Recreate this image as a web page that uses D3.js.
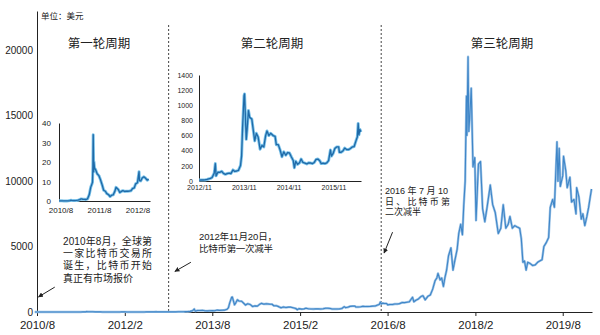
<!DOCTYPE html>
<html>
<head>
<meta charset="utf-8">
<script src="https://cdn.jsdelivr.net/npm/d3@7"></script>
<style>
body { margin: 0; background: #fff; }
svg { display: block; }
text { font-family: "Liberation Sans", "Noto Sans CJK SC", sans-serif; fill: #222; }
</style>
</head>
<body>
<svg id="chart"></svg>
<script>
// ---- data (USD) ----
const cycle1Dates = ['2010-07-18','2010-08-01','2010-08-15','2010-09-01','2010-09-15','2010-10-01','2010-10-15','2010-11-01','2010-11-07','2010-11-15','2010-12-01','2010-12-15','2011-01-01','2011-01-15','2011-02-01','2011-02-10','2011-02-15','2011-03-01','2011-03-15','2011-04-01','2011-04-15','2011-05-01','2011-05-15','2011-05-25','2011-06-01','2011-06-05','2011-06-08','2011-06-12','2011-06-15','2011-06-20','2011-07-01','2011-07-15','2011-08-01','2011-08-15','2011-09-01','2011-09-15','2011-10-01','2011-10-15','2011-11-01','2011-11-15','2011-12-01','2011-12-15','2012-01-01','2012-01-10','2012-01-15','2012-02-01','2012-02-15','2012-03-01','2012-03-15','2012-04-01','2012-04-15','2012-05-01','2012-05-15','2012-06-01','2012-06-15','2012-07-01','2012-07-15','2012-08-01','2012-08-16','2012-08-20','2012-09-01','2012-09-15','2012-10-01','2012-10-15','2012-11-01','2012-11-15'];
const cycle1Prices = [0.09,0.07,0.07,0.06,0.06,0.06,0.1,0.2,0.39,0.28,0.22,0.24,0.3,0.4,0.72,1.05,1.05,0.9,0.86,0.78,1.1,3.2,7,8.5,9.6,18,34,15,20,17,16,14,13,11,8.2,5.5,5,3.8,3.2,2.3,3,3.2,5.2,7,6.8,5.9,4.4,4.9,5.3,4.9,5,5,5.1,5.3,6.4,6.7,8.8,9.4,15,10.5,10.3,11.8,12.4,11.8,10.7,11.2];

const cycle2Dates = ['2012-11-28','2012-12-15','2013-01-01','2013-01-15','2013-02-01','2013-02-15','2013-03-01','2013-03-15','2013-04-01','2013-04-10','2013-04-16','2013-05-01','2013-05-15','2013-06-01','2013-06-15','2013-07-01','2013-07-15','2013-08-01','2013-08-15','2013-09-01','2013-09-15','2013-10-01','2013-10-15','2013-11-01','2013-11-10','2013-11-18','2013-11-30','2013-12-04','2013-12-10','2013-12-18','2013-12-25','2014-01-05','2014-01-15','2014-02-01','2014-02-15','2014-02-25','2014-03-10','2014-03-25','2014-04-10','2014-04-25','2014-05-10','2014-05-25','2014-06-05','2014-06-20','2014-07-05','2014-07-25','2014-08-10','2014-08-20','2014-09-05','2014-09-20','2014-10-05','2014-10-20','2014-11-05','2014-11-20','2014-12-05','2014-12-20','2015-01-05','2015-01-14','2015-01-25','2015-02-10','2015-02-25','2015-03-10','2015-03-25','2015-04-10','2015-04-25','2015-05-10','2015-05-25','2015-06-10','2015-06-25','2015-07-10','2015-07-25','2015-08-10','2015-08-20','2015-09-05','2015-09-20','2015-10-05','2015-10-20','2015-11-04','2015-11-12','2015-11-25','2015-12-10','2015-12-25','2016-01-10','2016-01-16','2016-01-30','2016-02-15','2016-02-28','2016-03-15','2016-03-30','2016-04-15','2016-04-30','2016-05-15','2016-05-30','2016-06-10','2016-06-17','2016-06-23','2016-07-01','2016-07-10'];
const cycle2Prices = [12.4,13.3,13.5,14.3,20,27,34,47,104,230,68,116,115,128,100,88,98,104,98,146,127,132,140,204,330,700,1125,1150,900,550,680,930,840,820,650,530,630,580,420,470,450,600,660,600,630,600,590,480,480,410,320,385,340,375,370,320,270,175,260,220,240,290,245,235,225,240,238,230,245,285,290,265,230,235,230,240,270,410,330,360,430,450,450,380,380,400,435,415,415,430,450,455,530,580,760,610,680,650];

const cycle3Dates = ['2016-07-25','2016-08-02','2016-08-15','2016-09-01','2016-09-15','2016-10-01','2016-10-15','2016-11-01','2016-11-15','2016-12-01','2016-12-15','2017-01-04','2017-01-12','2017-01-25','2017-02-10','2017-02-25','2017-03-10','2017-03-24','2017-04-10','2017-04-25','2017-05-10','2017-05-25','2017-06-05','2017-06-12','2017-06-25','2017-07-05','2017-07-16','2017-07-25','2017-08-05','2017-08-17','2017-09-01','2017-09-14','2017-09-25','2017-10-10','2017-10-20','2017-11-01','2017-11-12','2017-11-20','2017-11-29','2017-12-07','2017-12-10','2017-12-17','2017-12-22','2017-12-28','2018-01-06','2018-01-17','2018-01-28','2018-02-05','2018-02-20','2018-03-05','2018-03-18','2018-04-01','2018-04-15','2018-05-05','2018-05-20','2018-06-05','2018-06-24','2018-07-10','2018-07-25','2018-08-10','2018-08-25','2018-09-05','2018-09-20','2018-10-05','2018-10-20','2018-11-05','2018-11-15','2018-11-25','2018-12-05','2018-12-15','2018-12-25','2019-01-10','2019-01-25','2019-02-10','2019-02-25','2019-03-10','2019-03-25','2019-04-05','2019-04-20','2019-05-05','2019-05-15','2019-05-30','2019-06-10','2019-06-26','2019-07-02','2019-07-10','2019-07-17','2019-08-01','2019-08-06','2019-08-20','2019-08-29','2019-09-15','2019-09-25','2019-10-10','2019-10-23','2019-10-27','2019-11-10','2019-11-25','2019-12-05','2019-12-17','2019-12-30','2020-01-10','2020-01-20','2020-01-28'];
const cycle3Prices = [655,545,570,575,610,615,640,730,715,750,780,1130,780,900,1000,1180,1250,930,1200,1300,1750,2400,2600,2950,2450,2600,1950,2600,3200,4300,4900,3200,3900,4800,6000,6700,5900,8100,10000,16500,13500,19500,13800,15000,17100,11100,11800,7000,11300,11500,7900,6900,8000,9700,8200,7600,6000,6400,8200,6400,6700,7300,6400,6600,6500,6400,5600,3800,3900,3200,3800,3700,3550,3600,3800,3900,4000,5000,5300,5700,8000,8600,8000,13000,10000,12500,9600,10400,11900,10800,9500,10300,8400,8600,7500,9500,8800,7100,7500,6600,7300,8000,8800,9400];

const mainXTicks = ['2010-08-01','2012-02-01','2013-08-01','2015-02-01','2016-08-01','2018-02-01','2019-08-01'];
const mainYTicks = [0, 5000, 10000, 15000, 20000];
const inset1XTicks = ['2010-08-01','2011-08-01','2012-08-01'];
const inset1YTicks = [0, 10, 20, 30, 40];
const inset2XTicks = ['2012-11-28','2013-11-28','2014-11-28','2015-11-28'];
const inset2YTicks = [0, 200, 400, 600, 800, 1000, 1200, 1400];
const halvingDates = ['2012-11-01','2016-06-22'];
const cycleTitles = ['第一轮周期','第二轮周期','第三轮周期'];
const unitLabel = '单位：美元';
const note1Lines = ['2010年8月，全球第','一家比特币交易所','诞生，比特币开始','真正有市场报价'];
const note2Lines = ['2012年11月20日，','比特币第一次减半'];
const note3Lines = ['2016 年 7 月 10','日、比特币第','二次减半'];

// ---- layout ----
const width = 600, height = 335;
const parse = d3.timeParse('%Y-%m-%d');
const fmt = d3.timeFormat('%Y/%-m');
const zip = (ds, vs) => ds.map((d, i) => ({ date: parse(d), value: vs[i] }));
const c1 = zip(cycle1Dates, cycle1Prices);
const c2 = zip(cycle2Dates, cycle2Prices);
const c3 = zip(cycle3Dates, cycle3Prices);
const all = c1.concat(c2, c3);

const svg = d3.select('#chart').attr('width', width).attr('height', height);

svg.append('defs').append('marker')
	.attr('id', 'arrow')
	.attr('viewBox', '0 0 10 10')
	.attr('refX', 9).attr('refY', 5)
	.attr('markerWidth', 5).attr('markerHeight', 5)
	.attr('orient', 'auto')
	.append('path').attr('d', 'M0,0L10,5L0,10z').attr('fill', '#222');

// main scales
let x = d3.scaleTime().domain([parse('2010-08-01'), parse('2020-01-31')]).range([37, 592]);
let y = d3.scaleLinear().domain([0, 23000]).range([312, 11]);

function styleAxis(g) {
	g.selectAll('path.domain').attr('stroke', '#222').attr('stroke-width', 1);
	g.selectAll('line').attr('stroke', '#222');
}

svg.append('g').attr('transform', 'translate(37,0)')
	.call(d3.axisLeft(y).tickValues(mainYTicks).tickSize(0).tickPadding(4).tickFormat(d3.format('d')))
	.call(styleAxis)
	.selectAll('text').attr('font-size', 10).style('font-family', '"Liberation Sans"');

svg.append('g').attr('transform', 'translate(0,312)')
	.call(d3.axisBottom(x).tickValues(mainXTicks.map(parse)).tickSize(4).tickSizeOuter(0).tickPadding(5).tickFormat(fmt))
	.call(styleAxis)
	.selectAll('text').attr('font-size', 11.5).style('font-family', '"Liberation Sans"');

// halving lines
svg.selectAll('line.halving').data(halvingDates).enter().append('line')
	.attr('class', 'halving')
	.attr('x1', (d) => x(parse(d))).attr('x2', (d) => x(parse(d)))
	.attr('y1', 25).attr('y2', 312)
	.attr('stroke', '#444').attr('stroke-width', 1).attr('stroke-dasharray', '2,2');

// main line
let line = d3.line().x((d) => x(d.date)).y((d) => y(d.value));
svg.append('path').datum(all).attr('d', line).attr('fill', 'none')
	.attr('stroke', '#9dc3e6').attr('stroke-width', 2.4).attr('stroke-linejoin', 'round');
svg.append('path').datum(all).attr('d', line).attr('fill', 'none')
	.attr('stroke', '#3f86c8').attr('stroke-width', 1.1).attr('stroke-linejoin', 'round');

// titles
const titleX = [99, 272, 502];
svg.selectAll('text.title').data(cycleTitles).enter().append('text')
	.attr('class', 'title')
	.attr('x', (d, i) => titleX[i]).attr('y', 42)
	.attr('text-anchor', 'middle').attr('dominant-baseline', 'central')
	.attr('font-size', 12.5)
	.style('font-family', '"Noto Sans CJK SC"')
	.text((d) => d);

svg.append('text').attr('x', 41).attr('y', 15)
	.attr('dominant-baseline', 'central').attr('font-size', 8.5)
	.style('font-family', '"Noto Sans CJK SC"')
	.text(unitLabel);

// insets
function inset(data, xDomain, xRange, yDomain, yRange, xTicks, yTicks, xFs, yFs, yPad, xPad) {
	let ix = d3.scaleTime().domain(xDomain).range(xRange);
	let iy = d3.scaleLinear().domain(yDomain).range(yRange);
	let g = svg.append('g');
	g.append('g').attr('transform', 'translate(' + xRange[0] + ',0)')
		.call(d3.axisLeft(iy).tickValues(yTicks).tickSize(0).tickPadding(yPad).tickFormat(d3.format('d')))
		.call(styleAxis)
		.selectAll('text').attr('font-size', yFs);
	g.append('g').attr('transform', 'translate(0,' + yRange[0] + ')')
		.call(d3.axisBottom(ix).tickValues(xTicks.map(parse)).tickSize(0).tickPadding(xPad).tickFormat(fmt))
		.call(styleAxis)
		.selectAll('text').attr('font-size', xFs);
	let l = d3.line().x((d) => ix(d.date)).y((d) => iy(d.value));
	g.append('path').datum(data).attr('d', l).attr('fill', 'none')
		.attr('stroke', '#7cc3ea').attr('stroke-width', 3).attr('stroke-linejoin', 'round');
	g.append('path').datum(data).attr('d', l).attr('fill', 'none')
		.attr('stroke', '#1f6aa8').attr('stroke-width', 1.3).attr('stroke-linejoin', 'round');
}
inset(c1, [parse('2010-07-18'), parse('2012-11-28')], [59, 150], [0, 40], [201, 123],
	inset1XTicks, inset1YTicks, 8, 8, 8, 6);
inset(c2, [parse('2012-11-28'), parse('2016-07-10')], [199, 361], [0, 1400], [181, 75],
	inset2XTicks, inset2YTicks, 7, 7, 6, 4);

// notes
function note(lines, tx, ty, lh, fs, w, arrow) {
	let t = svg.append('g');
	lines.forEach((s, i) => {
		let el = t.append('text').attr('x', tx).attr('y', ty + i * lh)
			.attr('dominant-baseline', 'central').attr('font-size', fs)
			.text(s);
		if (w[i]) el.attr('textLength', w[i]).attr('lengthAdjust', 'spacing');
	});
	svg.append('line')
		.attr('x1', x(parse(arrow[0]))).attr('y1', y(arrow[1]))
		.attr('x2', x(parse(arrow[2]))).attr('y2', y(arrow[3]))
		.attr('stroke', '#222').attr('stroke-width', 1)
		.attr('marker-end', 'url(#arrow)');
}
note(note1Lines, 63, 241, 12.4, 10, [89, 89, 89, 0], ['2010-11-20', 1900, '2010-08-10', 1150]);
note(note2Lines, 199, 236, 12, 9.5, [78, 74], ['2013-03-20', 3800, '2012-12-10', 3100]);
note(note3Lines, 385, 191, 10.6, 9, [63, 65, 0], ['2016-09-01', 6100, '2016-07-10', 4500]);
</script>
</body>
</html>
